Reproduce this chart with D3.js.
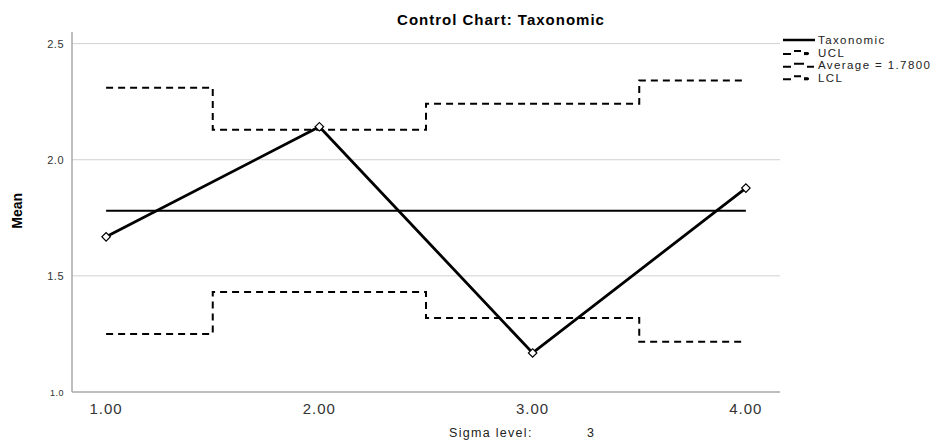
<!DOCTYPE html>
<meta charset="utf-8">
<style>
  body { margin: 0; background: #fff; }
  text { font-family: Arial, "Liberation Sans", sans-serif; }
</style>
<body>
<script src="https://d3js.org/d3.v7.min.js"></script>
<script>
// values
var samples = [1, 2, 3, 4];
var tickLabels = ["1.00", "2.00", "3.00", "4.00"];
var means = [1.668, 2.142, 1.168, 1.878];
var ucl = [2.31, 2.129, 2.241, 2.341];
var lcl = [1.25, 1.431, 1.319, 1.216];
var average = 1.78;
var yTicks = [1.0, 1.5, 2.0, 2.5];
var legendNames = ["Taxonomic", "UCL", "Average = 1.7800", "LCL"];

var width = 945, height = 440;
var margin = {top: 32, right: 165, bottom: 48, left: 72};

var svg = d3.select("body").append("svg")
    .attr("width", width)
    .attr("height", height);

var x = d3.scaleLinear()
    .domain([0.84, 4.16])
    .range([margin.left, width - margin.right]);

var y = d3.scaleLinear()
    .domain([1.0, 2.55])
    .range([height - margin.bottom, margin.top]);

// title
svg.append("text")
    .attr("x", 501).attr("y", 25)
    .attr("text-anchor", "middle")
    .style("font-size", "15px").style("font-weight", "bold")
    .style("letter-spacing", "1px")
    .text("Control Chart: Taxonomic");

// gridlines
svg.append("g").selectAll("line")
    .data(yTicks.filter(function(d) { return d > 1; }))
  .enter().append("line")
    .attr("x1", margin.left).attr("x2", width - margin.right)
    .attr("y1", function(d) { return y(d); }).attr("y2", function(d) { return y(d); })
    .style("stroke", "#d0d0d0").style("stroke-width", 1);

// axes lines
svg.append("line")
    .attr("x1", margin.left).attr("x2", margin.left)
    .attr("y1", margin.top).attr("y2", y(1.0))
    .style("stroke", "#a8a8a8").style("stroke-width", 1.5);
svg.append("line")
    .attr("x1", margin.left).attr("x2", width - margin.right)
    .attr("y1", y(1.0)).attr("y2", y(1.0))
    .style("stroke", "#a8a8a8").style("stroke-width", 1.5);

// y tick labels
svg.append("g").selectAll("text")
    .data(yTicks)
  .enter().append("text")
    .attr("x", 64)
    .attr("y", function(d) { return y(d) + 4; })
    .attr("text-anchor", "end")
    .style("font-size", function(d) { return d === 1.0 ? "9px" : "11px"; })
    .style("letter-spacing", "0.5px")
    .style("fill", "#333")
    .text(function(d) { return d3.format(".1f")(d); });

// y label
svg.append("text")
    .attr("transform", "translate(22," + y(1.78) + ") rotate(-90)")
    .attr("text-anchor", "middle")
    .style("font-size", "14px").style("font-weight", "bold")
    .style("font-family", "'Liberation Sans Narrow', Arial, sans-serif")
    .text("Mean");

// x tick labels
svg.append("g").selectAll("text")
    .data(samples)
  .enter().append("text")
    .attr("x", function(d) { return x(d); })
    .attr("y", 414)
    .attr("text-anchor", "middle")
    .style("font-size", "15px").style("fill", "#333")
    .style("letter-spacing", "1px")
    .text(function(d, i) { return tickLabels[i]; });

// sigma note
svg.append("text")
    .attr("x", 449).attr("y", 437)
    .style("font-size", "12.5px").style("fill", "#222")
    .style("letter-spacing", "1.3px")
    .text("Sigma level:");
svg.append("text")
    .attr("x", 587).attr("y", 437)
    .style("font-size", "12.5px").style("fill", "#222")
    .text("3");

// step paths for control limits
function stepData(vals) {
  var pts = [];
  vals.forEach(function(v, i) {
    var s = samples[i];
    var x0 = i === 0 ? s : s - 0.5;
    var x1 = i === vals.length - 1 ? s : s + 0.5;
    pts.push([x0, v], [x1, v]);
  });
  return pts;
}
var line = d3.line()
    .x(function(d) { return x(d[0]); })
    .y(function(d) { return y(d[1]); });

[ucl, lcl].forEach(function(lim) {
  svg.append("path")
      .datum(stepData(lim))
      .attr("d", line)
      .style("fill", "none").style("stroke", "#000")
      .style("stroke-width", 2).style("stroke-dasharray", "7,5");
});

// average
svg.append("line")
    .attr("x1", x(samples[0])).attr("x2", x(samples[samples.length - 1]))
    .attr("y1", y(average)).attr("y2", y(average))
    .style("stroke", "#000").style("stroke-width", 2);

// mean series
svg.append("path")
    .datum(samples.map(function(s, i) { return [s, means[i]]; }))
    .attr("d", line)
    .style("fill", "none").style("stroke", "#000").style("stroke-width", 2.8);

svg.append("g").selectAll("path")
    .data(samples)
  .enter().append("path")
    .attr("transform", function(d, i) { return "translate(" + x(d) + "," + y(means[i]) + ") rotate(45)"; })
    .attr("d", d3.symbol().type(d3.symbolSquare).size(36))
    .style("fill", "#fff").style("stroke", "#000").style("stroke-width", 1.2);

// legend
var lg = svg.append("g").attr("transform", "translate(783,40)");
legendNames.forEach(function(name, i) {
  var g = lg.append("g").attr("transform", "translate(0," + (i * 12.6) + ")");
  if (i === 0) {
    g.append("line").attr("x1", 0).attr("x2", 32).attr("y1", 0).attr("y2", 0)
        .style("stroke", "#000").style("stroke-width", 2.5);
  } else if (i === 2) {
    g.append("path").attr("d", "M0,1.5H8M11,-1.5H21M24,1.5H31")
        .style("stroke", "#000").style("stroke-width", 2).style("fill", "none");
  } else {
    g.append("path").attr("d", "M0,1.5H8M11,-1.5H18M21,1H26")
        .style("stroke", "#000").style("stroke-width", 2).style("fill", "none");
    g.append("rect").attr("x", 21).attr("y", -0.5).attr("width", 4).attr("height", 3).style("fill", "#000");
  }
  g.append("text")
      .attr("x", 35).attr("y", 4)
      .style("font-size", "11.5px").style("fill", "#222")
      .style("letter-spacing", "1.4px")
      .text(name);
});
</script>
</body>
